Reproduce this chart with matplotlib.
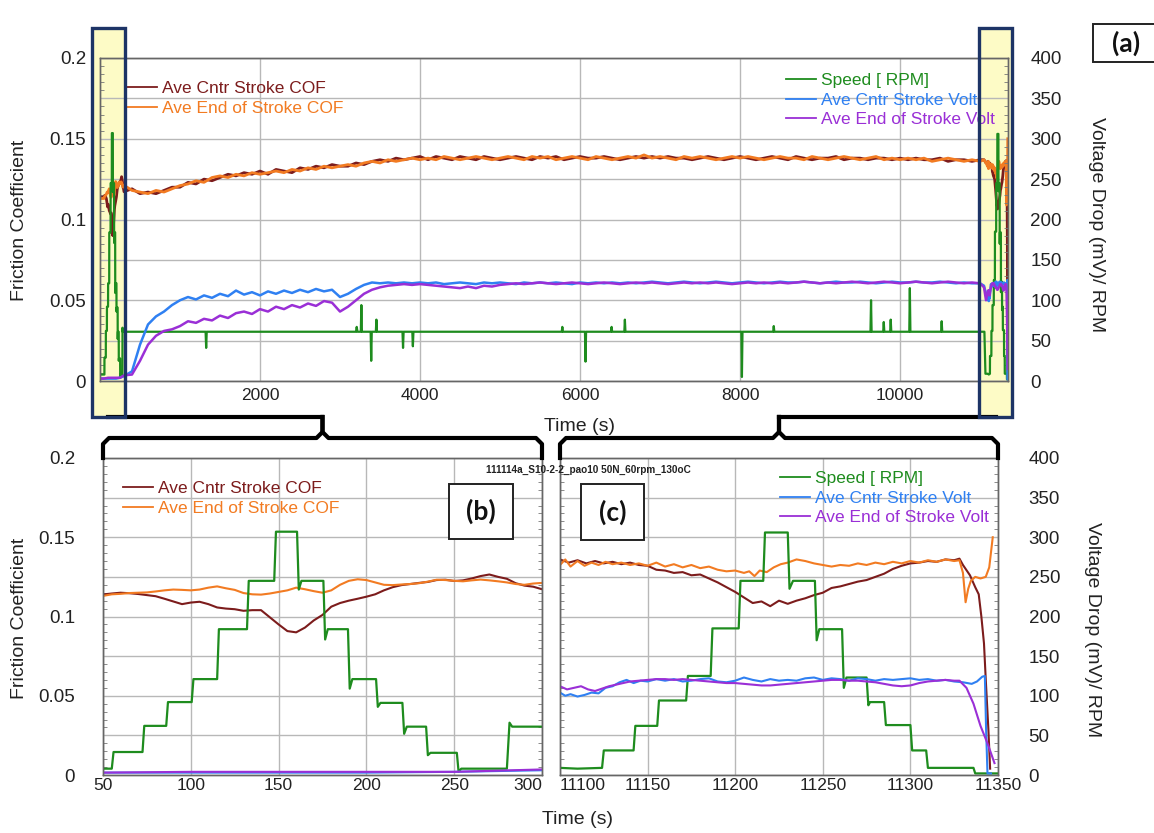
import matplotlib
matplotlib.use("Agg")

import matplotlib.pyplot as plt
import matplotlib.transforms as mtransforms
from matplotlib.patches import Rectangle
from matplotlib.lines import Line2D
from matplotlib.ticker import AutoMinorLocator
import numpy as np

plt.rcParams["font.family"] = ["Liberation Sans", "DejaVu Sans"]

# ---------- Colours ----------
C_CNTR = "#7c1c1c"
C_END = "#f27b22"
C_SPEED = "#1e8c1e"
C_VCNTR = "#2f80f2"
C_VEND = "#9a2fd6"
GRID = "#b8b8b8"
NAVY = "#1d3466"

# ---------- Data: start-up window (b), 50-300 s ----------
t_b = np.arange(50, 301, 5)
cof_cntr_b = [0.1139, 0.1145, 0.1150, 0.1147, 0.1142, 0.1135, 0.1128, 0.1112, 0.1095, 0.1078,
              0.1088, 0.1093, 0.1078, 0.1057, 0.1050, 0.1046, 0.1036, 0.1040, 0.1040, 0.0995,
              0.0950, 0.0908, 0.0900, 0.0930, 0.0975, 0.1010, 0.1062, 0.1085, 0.1100, 0.1112,
              0.1125, 0.1140, 0.1165, 0.1185, 0.1198, 0.1205, 0.1212, 0.1218, 0.1230, 0.1232,
              0.1224, 0.1228, 0.1240, 0.1255, 0.1265, 0.1250, 0.1238, 0.1210, 0.1195, 0.1188,
              0.1172]
cof_end_b = [0.1130, 0.1140, 0.1143, 0.1148, 0.1150, 0.1152, 0.1158, 0.1165, 0.1170, 0.1168,
             0.1165, 0.1170, 0.1182, 0.1190, 0.1178, 0.1168, 0.1148, 0.1140, 0.1138, 0.1145,
             0.1155, 0.1165, 0.1182, 0.1172, 0.1160, 0.1150, 0.1165, 0.1200, 0.1225, 0.1235,
             0.1230, 0.1215, 0.1200, 0.1198, 0.1202, 0.1205, 0.1210, 0.1220, 0.1232, 0.1230,
             0.1225, 0.1222, 0.1228, 0.1233, 0.1228, 0.1222, 0.1215, 0.1205, 0.1200, 0.1208,
             0.1212]
spd_b_t = [50, 55, 56, 72.5, 73.5, 86, 87, 100.5, 101.5, 115, 116, 132, 133, 147.5, 148.5,
           160.5, 161.5, 163, 175.5, 176.5, 178, 189.5, 190.5, 192, 205.5, 206.5, 208,
           220.5, 221.5, 223, 234, 235, 236.5, 251.5, 252.5, 254, 280, 281.5, 283, 300]
spd_b = [8, 8, 29, 29, 62, 62, 92, 92, 121, 121, 184, 184, 245, 245, 307,
         307, 234, 245, 245, 171, 184, 184, 109, 121, 121, 86, 91,
         91, 52, 61, 61, 25, 28, 28, 4, 8, 8, 66, 61, 61]
volt_b_t = [50, 100, 150, 200, 250, 300]
volt_cntr_b = [3, 3, 3, 3, 4, 6]
volt_end_b = [3, 4, 4, 4, 4, 7]

# ---------- Data: long run (a), 400-11000 s ----------
t_mid = np.arange(400, 11001, 100)
cof_end_mid = [0.118, 0.117, 0.116, 0.118, 0.117, 0.119, 0.121,
               0.122, 0.124, 0.123, 0.126, 0.127, 0.126, 0.128, 0.127, 0.129, 0.128,
               0.129, 0.130, 0.129, 0.131, 0.130, 0.132, 0.131, 0.133, 0.132, 0.133,
               0.134, 0.133, 0.135, 0.136, 0.135, 0.137, 0.136, 0.137, 0.138, 0.137,
               0.138, 0.137, 0.139, 0.138, 0.137, 0.138, 0.139, 0.138, 0.137, 0.138,
               0.139, 0.138, 0.137, 0.139, 0.138, 0.139, 0.137, 0.138, 0.139, 0.138,
               0.137, 0.139, 0.138, 0.137, 0.138, 0.139, 0.138, 0.140, 0.138, 0.139,
               0.138, 0.137, 0.139, 0.138, 0.139, 0.138, 0.137, 0.138, 0.139, 0.138,
               0.139, 0.138, 0.137, 0.138, 0.139, 0.138, 0.138, 0.137, 0.139, 0.138,
               0.137, 0.138, 0.139, 0.138, 0.137, 0.138, 0.139, 0.137, 0.138, 0.137,
               0.138, 0.137, 0.138, 0.136, 0.137, 0.138, 0.137, 0.136, 0.137, 0.136]
cof_cntr_mid = [0.119, 0.116, 0.117, 0.116, 0.118, 0.120, 0.120,
                0.123, 0.122, 0.125, 0.124, 0.126, 0.128, 0.127, 0.129, 0.128, 0.130,
                0.128, 0.131, 0.130, 0.129, 0.132, 0.131, 0.133, 0.132, 0.134, 0.133,
                0.133, 0.135, 0.134, 0.136, 0.137, 0.136, 0.138, 0.137, 0.138, 0.139,
                0.137, 0.139, 0.138, 0.137, 0.139, 0.138, 0.137, 0.139, 0.138, 0.137,
                0.138, 0.139, 0.138, 0.137, 0.139, 0.138, 0.139, 0.137, 0.138, 0.139,
                0.138, 0.138, 0.139, 0.138, 0.137, 0.138, 0.139, 0.138, 0.139, 0.138,
                0.139, 0.138, 0.138, 0.137, 0.138, 0.139, 0.138, 0.137, 0.138, 0.139,
                0.138, 0.137, 0.138, 0.139, 0.138, 0.137, 0.139, 0.138, 0.137, 0.138,
                0.138, 0.139, 0.137, 0.138, 0.138, 0.137, 0.138, 0.138, 0.137, 0.138,
                0.137, 0.138, 0.137, 0.137, 0.138, 0.136, 0.137, 0.137, 0.136, 0.137]
volt_cntr_mid = [12, 45, 70, 80, 86, 94, 100, 104, 101, 106, 103, 108, 105, 112, 107, 110,
                 106, 111, 108, 112, 109, 113, 110, 114, 111, 113, 104, 108, 114, 119, 122,
                 121, 122, 121, 122, 121, 122,
                 121, 122, 120, 121, 122, 121, 120, 122, 121, 122,
                 121, 120, 122, 121, 122, 121, 122, 121, 120, 122,
                 121, 122, 121, 122, 121, 122, 121, 122, 123, 122,
                 121, 122, 123, 122, 121, 122, 123, 122, 121, 122,
                 123, 122, 121, 122, 123, 122, 122, 123, 122, 121,
                 122, 123, 122, 122, 123, 122, 121, 122, 123, 122,
                 122, 123, 122, 122, 123, 122, 121, 122, 121, 121]
volt_end_mid = [8, 25, 45, 56, 62, 64, 68, 74, 72, 77, 75, 81, 78, 84, 86, 83,
                89, 86, 92, 89, 94, 91, 96, 93, 99, 97, 86, 92, 100, 108, 113,
                116, 118, 119, 120, 119, 120,
                119, 118, 117, 116, 115, 117, 115, 118, 117, 119,
                120, 121, 120, 121, 122, 121, 120, 121, 122, 121,
                120, 121, 122, 121, 120, 121, 122, 121, 122, 121,
                120, 121, 122, 121, 122, 121, 122, 121, 120, 121,
                122, 121, 122, 121, 122, 121, 122, 123, 122, 121,
                122, 121, 122, 123, 122, 121, 122, 123, 122, 121,
                122, 123, 122, 121, 122, 123, 122, 121, 122, 121]
spd_mid_t = [310, 1320, 1327, 1334, 3200, 3209, 3218, 3260, 3267, 3274, 3383, 3390, 3397,
             3448, 3455, 3462, 3781, 3788, 3795, 3904, 3911, 3918, 5772, 5779, 5786,
             6062, 6069, 6076, 6388, 6395, 6402, 6554, 6561, 6568, 8017, 8024, 8031,
             8415, 8422, 8429, 9631, 9638, 9645, 9790, 9797, 9804, 9877, 9884, 9891,
             10116, 10123, 10130, 10514, 10521, 10528, 11055, 11068]
spd_mid = [61, 61, 41, 61, 61, 67, 61, 61, 94, 61, 61, 25, 61,
           61, 76, 61, 61, 41, 61, 61, 43, 61, 61, 67, 61,
           61, 24, 61, 61, 67, 61, 61, 76, 61, 61, 5, 61,
           61, 68, 61, 61, 100, 61, 61, 73, 61, 61, 76, 61,
           61, 115, 61, 61, 74, 61, 61, 9]
bridge_t = [11050, 11075]
cof_bridge = [0.137, 0.135]
volt_cntr_bridge = [118, 108]
volt_end_bridge = [116, 100]

# ---------- Data: shut-down window (c), 11100-11350 s ----------
cof_cntr_c_t = [11100, 11105, 11110, 11115, 11120, 11125, 11130, 11135, 11140, 11145,
                11150, 11155, 11160, 11165, 11170, 11175, 11180, 11185, 11190, 11195,
                11200, 11205, 11210, 11215, 11220, 11225, 11230, 11235, 11240, 11245,
                11250, 11255, 11260, 11265, 11270, 11275, 11280, 11285, 11290, 11295,
                11300, 11305, 11310, 11315, 11320, 11325, 11328, 11330, 11334, 11337,
                11339, 11340.5, 11342, 11343, 11344.5, 11345.5]
cof_cntr_c = [0.1360, 0.1340, 0.1355, 0.1335, 0.1350, 0.1335, 0.1345, 0.1330, 0.1340, 0.1325,
              0.1320, 0.1295, 0.1290, 0.1275, 0.1280, 0.1260, 0.1265, 0.1240, 0.1215, 0.1185,
              0.1155, 0.1120, 0.1085, 0.1095, 0.1065, 0.1100, 0.1080, 0.1100, 0.1115, 0.1135,
              0.1150, 0.1180, 0.1190, 0.1205, 0.1220, 0.1230, 0.1250, 0.1270, 0.1300, 0.1320,
              0.1335, 0.1340, 0.1350, 0.1345, 0.1360, 0.1355, 0.1365, 0.1325, 0.1260, 0.1185,
              0.1140, 0.1000, 0.0830, 0.0605, 0.0290, 0.0040]
cof_end_c_t = [11100, 11103, 11106, 11110, 11114, 11118, 11122, 11126, 11130, 11135,
               11140, 11145, 11150, 11155, 11160, 11165, 11170, 11175, 11180, 11185,
               11190, 11195, 11200, 11205, 11208, 11211, 11214, 11218, 11222, 11226,
               11230, 11235, 11240, 11245, 11250, 11255, 11260, 11265, 11270, 11275,
               11280, 11285, 11290, 11295, 11300, 11305, 11310, 11315, 11320, 11325,
               11328, 11330, 11331.5, 11333, 11334.5, 11337, 11340, 11343, 11345, 11347]
cof_end_c = [0.1325, 0.1360, 0.1315, 0.1350, 0.1320, 0.1340, 0.1325, 0.1345, 0.1330, 0.1340,
             0.1325, 0.1335, 0.1320, 0.1340, 0.1315, 0.1330, 0.1310, 0.1325, 0.1305, 0.1315,
             0.1295, 0.1285, 0.1290, 0.1275, 0.1285, 0.1255, 0.1290, 0.1280, 0.1310, 0.1330,
             0.1340, 0.1360, 0.1350, 0.1335, 0.1325, 0.1315, 0.1325, 0.1320, 0.1335, 0.1325,
             0.1340, 0.1330, 0.1345, 0.1335, 0.1350, 0.1340, 0.1355, 0.1345, 0.1360, 0.1350,
             0.1355, 0.1275, 0.1090, 0.1175, 0.1225, 0.1250, 0.1240, 0.1250, 0.1310, 0.1500]
spd_c_t = [11100, 11110, 11124, 11125, 11142, 11143, 11155.5, 11156.5, 11172, 11173,
           11186, 11187, 11202, 11203, 11216, 11217, 11230, 11231, 11233, 11245.5,
           11246.5, 11248, 11261, 11262, 11263.5, 11275, 11276, 11277, 11285, 11286,
           11300, 11301, 11309, 11310, 11336, 11337, 11350]
spd_c = [9, 8, 9, 31, 31, 62, 62, 94, 94, 125,
         125, 185, 185, 245, 245, 306, 306, 235, 245, 245,
         170, 184, 184, 110, 123, 123, 88, 92, 92, 63,
         63, 31, 31, 9, 9, 2, 2]
volt_cntr_c_t = [11100, 11103, 11106, 11110, 11114, 11118, 11122, 11126, 11130, 11134,
                 11138, 11142, 11146, 11150, 11155, 11160, 11165, 11170, 11175, 11180,
                 11185, 11190, 11195, 11200, 11205, 11210, 11215, 11220, 11225, 11230,
                 11235, 11240, 11245, 11250, 11255, 11260, 11265, 11270, 11275, 11280,
                 11285, 11290, 11295, 11300, 11305, 11310, 11315, 11320, 11325, 11330,
                 11335, 11338, 11341, 11342.5, 11343.2, 11344, 11346]
volt_cntr_c = [104, 100, 102, 99, 101, 104, 103, 110, 112, 117,
               120, 116, 119, 118, 121, 119, 121, 118, 119, 121,
               122, 118, 117, 119, 123, 120, 118, 121, 119, 120,
               119, 122, 123, 120, 122, 121, 119, 122, 121, 119,
               121, 120, 121, 122, 120, 121, 119, 120, 118, 117,
               115, 118, 124, 125, 58, 2, 2]
volt_end_c_t = [11100, 11104, 11108, 11112, 11116, 11120, 11124, 11128, 11132, 11136,
                11140, 11145, 11150, 11155, 11160, 11165, 11170, 11175, 11180, 11185,
                11190, 11195, 11200, 11205, 11210, 11215, 11220, 11225, 11230, 11235,
                11240, 11245, 11250, 11255, 11260, 11265, 11270, 11275, 11280, 11285,
                11290, 11295, 11300, 11305, 11310, 11315, 11320, 11325, 11328, 11332,
                11336, 11340, 11344, 11348]
volt_end_c = [112, 108, 110, 112, 108, 106, 109, 112, 114, 116,
              118, 119, 120, 121, 121, 120, 121, 120, 119, 118,
              117, 116, 116, 115, 114, 113, 113, 114, 115, 116,
              117, 118, 119, 120, 120, 119, 119, 118, 117, 115,
              113, 112, 113, 116, 118, 119, 120, 119, 119, 110,
              90, 62, 40, 15]

# ---------- One continuous record, viewed through three windows ----------
def join(*parts):
    return np.concatenate([np.asarray(p, dtype=float) for p in parts])

run_cntr_t = join([0], t_b, t_mid, bridge_t, cof_cntr_c_t)
run_cntr = join(cof_cntr_b[:1], cof_cntr_b, cof_cntr_mid, cof_bridge, cof_cntr_c)
run_end_t = join([0], t_b, t_mid, bridge_t, cof_end_c_t)
run_end = join(cof_end_b[:1], cof_end_b, cof_end_mid, cof_bridge, cof_end_c)
run_spd_t = join([0], spd_b_t, spd_mid_t, spd_c_t)
run_spd = join(spd_b[:1], spd_b, spd_mid, spd_c)
run_vc_t = join([0], volt_b_t, t_mid, bridge_t, volt_cntr_c_t)
run_vc = join(volt_cntr_b[:1], volt_cntr_b, volt_cntr_mid, volt_cntr_bridge, volt_cntr_c)
run_ve_t = join([0], volt_b_t, t_mid, bridge_t, volt_end_c_t)
run_ve = join(volt_end_b[:1], volt_end_b, volt_end_mid, volt_end_bridge, volt_end_c)

cof_ticks = np.arange(0, 0.2001, 0.025)
cof_labels = ["0", "", "0.05", "", "0.1", "", "0.15", "", "0.2"]
rpm_ticks = np.arange(0, 401, 50)
rpm_labels = [str(v) for v in rpm_ticks]

# ---------- Figure (pixel helpers) ----------
W, H = 1154, 833
fig = plt.figure(figsize=(W / 100, H / 100), dpi=100)


def fx(px):
    return px / W


def fy(py):
    return 1 - py / H


def make_axes(left, top, right, bottom):
    ax = fig.add_axes([fx(left), fy(bottom), (right - left) / W, (bottom - top) / H])
    tw = ax.twinx()
    ax.set_facecolor("none")
    tw.set_facecolor("none")
    return ax, tw


def draw_traces(ax, tw, lw_cof, lw_volt):
    l1, = ax.plot(run_cntr_t, run_cntr, color=C_CNTR, lw=lw_cof, label="Ave Cntr Stroke COF")
    l2, = ax.plot(run_end_t, run_end, color=C_END, lw=lw_cof, label="Ave End of Stroke COF")
    l3, = tw.plot(run_spd_t, run_spd, color=C_SPEED, lw=1.6, label="Speed [ RPM]")
    l4, = tw.plot(run_vc_t, run_vc, color=C_VCNTR, lw=lw_volt, label="Ave Cntr Stroke Volt")
    l5, = tw.plot(run_ve_t, run_ve, color=C_VEND, lw=lw_volt, label="Ave End of Stroke Volt")
    return [l1, l2], [l3, l4, l5]


def style(ax, tw, xlim, xticks, xpad, show_left, show_right):
    ax.set_xlim(*xlim)
    ax.set_ylim(0, 0.2)
    tw.set_ylim(0, 400)
    ax.set_xticks(xticks)
    ax.set_xticklabels([str(v) for v in xticks])
    ax.set_yticks(cof_ticks)
    ax.set_yticklabels(cof_labels if show_left else [""] * len(cof_ticks))
    tw.set_yticks(rpm_ticks)
    tw.set_yticklabels(rpm_labels if show_right else [""] * len(rpm_ticks))
    ax.yaxis.set_minor_locator(AutoMinorLocator(5))
    tw.yaxis.set_minor_locator(AutoMinorLocator(5))
    ax.grid(True, which="major", color=GRID, lw=1.0)
    ax.set_axisbelow(True)
    ax.tick_params(axis="x", direction="in", length=0, pad=xpad, labelsize=12.5, labelcolor="#222")
    ax.tick_params(axis="y", which="major", direction="in", length=0, pad=10,
                   labelsize=13.5, labelcolor="#222")
    ax.tick_params(axis="y", which="minor", direction="in", length=3, color="#777")
    tw.tick_params(axis="y", which="major", direction="in", length=0, pad=16,
                   labelsize=13.5, labelcolor="#222")
    tw.tick_params(axis="y", which="minor", direction="in", length=3, color="#777")
    for a in (ax, tw):
        for s in a.spines.values():
            s.set_color("#666")
            s.set_linewidth(1.0)


def legend_at(ax, handles, left_px, top_px, ax_left, ax_top, ax_w, ax_h):
    leg = ax.legend(handles=handles, loc="upper left",
                    bbox_to_anchor=((left_px - ax_left) / ax_w, 1 - (top_px - ax_top) / ax_h),
                    frameon=False, fontsize=12.5, handlelength=1.75, handletextpad=0.25,
                    labelspacing=0.26, borderpad=0, borderaxespad=0, labelcolor="linecolor")
    for ln in leg.get_lines():
        ln.set_linewidth(1.3)


# ---------- Panel (a) ----------
ax_a, tw_a = make_axes(100, 58, 1008, 381)
cof_a, rpm_a = draw_traces(ax_a, tw_a, 2.0, 1.8)
style(ax_a, tw_a, (0, 11350), [2000, 4000, 6000, 8000, 10000], 5, True, True)
legend_at(ax_a, cof_a, 127, 81, 100, 58, 908, 323)
legend_at(tw_a, rpm_a, 786, 73, 100, 58, 908, 323)

# ---------- Panels (b) and (c) ----------
ax_b, tw_b = make_axes(103, 458, 542, 775)
cof_b, _ = draw_traces(ax_b, tw_b, 1.5, 1.5)
style(ax_b, tw_b, (50, 300), [50, 100, 150, 200, 250, 300], 2, True, False)
ax_b.tick_params(axis="y", which="major", pad=20)
ax_b.get_xticklabels()[-1].set_horizontalalignment("right")
legend_at(ax_b, cof_b, 123, 481, 103, 458, 439, 317)

ax_c, tw_c = make_axes(560, 458, 998, 775)
_, rpm_c = draw_traces(ax_c, tw_c, 1.5, 1.5)
style(ax_c, tw_c, (11100, 11350), [11100, 11150, 11200, 11250, 11300, 11350], 2, False, True)
tw_c.tick_params(axis="y", which="major", pad=22)
ax_c.get_xticklabels()[0].set_horizontalalignment("left")
legend_at(tw_c, rpm_c, 780, 471, 560, 458, 438, 317)

# ---------- Axis titles ----------
lab = dict(fontsize=14, color="#222")
fig.text(fx(20), fy(220), "Friction Coefficient", rotation=90, ha="center", va="center", **lab)
fig.text(fx(20), fy(618), "Friction Coefficient", rotation=90, ha="center", va="center", **lab)
fig.text(fx(1097), fy(225), "Voltage Drop (mV)/ RPM", rotation=270, ha="center", va="center", **lab)
fig.text(fx(1092), fy(630), "Voltage Drop (mV)/ RPM", rotation=270, ha="center", va="center", **lab)
fig.text(fx(579), fy(426), "Time (s)", ha="center", va="center", **lab)
fig.text(fx(577), fy(820), "Time (s)", ha="center", va="center", **lab)
fig.text(fx(588), fy(470), "111114a_S10-2-2_pao10 50N_60rpm_130oC", ha="center", va="center",
         fontsize=7.2, fontweight="bold", color="#222")

# ---------- Highlight boxes on (a) ----------
zoom_boxes = [(-100, 312), (10990, 11400)]
box_tr = mtransforms.blended_transform_factory(ax_a.transData, fig.transFigure)
for x0, x1 in zoom_boxes:
    fig.patches.append(Rectangle((x0, fy(417)), x1 - x0, fy(28) - fy(417), transform=box_tr,
                                 facecolor="#fdfbc6", edgecolor="none", zorder=-1))
    fig.patches.append(Rectangle((x0, fy(417)), x1 - x0, fy(28) - fy(417), transform=box_tr,
                                 facecolor="none", edgecolor=NAVY, lw=2.4, zorder=6))


# ---------- Braces linking (a) to (b) and (c) ----------
def brace(ax_low, box):
    bb = ax_low.get_position()
    left, right = bb.x0 * W, bb.x1 * W
    mid = (left + right) / 2
    top = (1 - bb.y1) * H
    box_mid = ax_a.transData.transform(((box[0] + box[1]) / 2, 0))[0]
    halves = [
        ([left, left, left + 6, mid - 6, mid, mid], [top, top - 14, top - 20, top - 20, top - 26, 417]),
        ([right, right, right - 6, mid + 6, mid, mid], [top, top - 14, top - 20, top - 20, top - 26, 417]),
    ]
    for xs, ys in halves:
        fig.lines.append(Line2D([fx(v) for v in xs], [fy(v) for v in ys], transform=fig.transFigure,
                                color="black", lw=3, solid_joinstyle="round", zorder=5))
    fig.lines.append(Line2D([fx(mid), fx(box_mid)], [fy(417), fy(417)], transform=fig.transFigure,
                            color="black", lw=3, zorder=5))


brace(ax_b, zoom_boxes[0])
brace(ax_c, zoom_boxes[1])

# ---------- Panel tags ----------
tags = [("(a)", 1093, 24, 1170, 62), ("(b)", 449, 484, 513, 539), ("(c)", 581, 484, 644, 540)]
for text, x0, y0, x1, y1 in tags:
    fig.patches.append(Rectangle((fx(x0), fy(y1)), (x1 - x0) / W, (y1 - y0) / H,
                                 transform=fig.transFigure, facecolor="white",
                                 edgecolor="#222", lw=1.4, zorder=7))
    cx = (x0 + min(x1, W)) / 2 + (3 if text == "(a)" else 0)
    fig.text(fx(cx), fy((y0 + y1) / 2), text,
             ha="center", va="center", fontsize=19, fontweight="bold",
             family=["Lato", "DejaVu Sans"], color="#111", zorder=8)

fig.savefig("out.png", dpi=100)
